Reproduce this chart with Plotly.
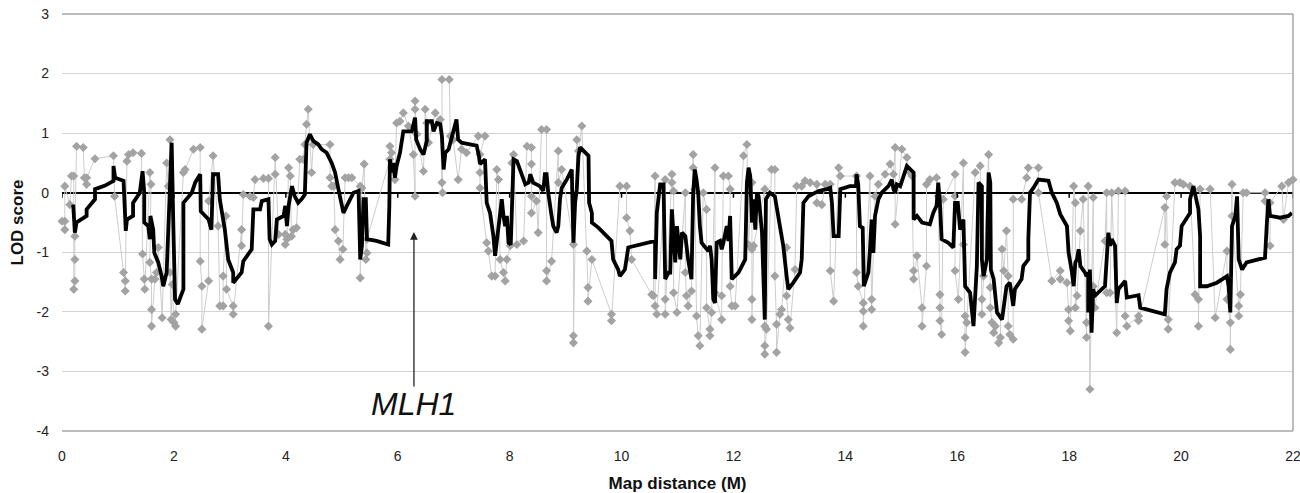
import plotly.graph_objects as go

# ---- data: grey single-marker LOD scores (map distance M, LOD) ----
gray_x = [0.0, 0.05, 0.05, 0.05, 0.14, 0.17, 0.21, 0.21, 0.23, 0.23, 0.23, 0.26, 0.38, 0.40, 0.44, 0.44,
          0.59, 0.92, 0.94, 1.10, 1.13, 1.13, 1.16, 1.19, 1.27, 1.42, 1.44, 1.47, 1.48, 1.57, 1.59, 1.57,
          1.60, 1.60, 1.60, 1.66, 1.69, 1.72, 1.79, 1.87, 1.90, 1.93, 1.93, 1.95, 1.97, 2.00, 2.03, 2.03,
          2.17, 2.20, 2.35, 2.47, 2.47, 2.50, 2.50, 2.62, 2.62, 2.70, 2.79, 2.82, 2.88, 2.88, 2.93, 2.94,
          3.06, 3.06, 3.21, 3.21, 3.24, 3.36, 3.42, 3.45, 3.60, 3.69, 3.69,
          3.81, 3.81, 3.87, 3.99, 3.99, 4.02, 4.05, 4.08, 4.10, 4.13, 4.19, 4.25, 4.31, 4.34, 4.37, 4.40,
          4.46, 4.49, 4.79, 4.79, 4.82, 4.86, 4.88, 4.94, 4.97, 5.02, 5.06, 5.12, 5.18, 5.33, 5.33, 5.36,
          5.40, 5.43, 5.45, 5.45, 5.86, 5.86, 5.89, 5.95, 5.98, 6.04, 6.10, 6.19, 6.28, 6.31, 6.31, 6.31,
          6.34, 6.46, 6.49, 6.52, 6.55, 6.67, 6.76, 6.79, 6.80, 6.79, 6.92, 6.94, 6.99, 7.08, 7.14, 7.23,
          7.44, 7.56, 7.47, 7.47, 7.47, 7.59, 7.62, 7.68, 7.74, 7.77, 7.80, 7.83, 7.89, 7.92, 7.95, 8.01,
          8.04, 8.07, 8.13, 8.25, 8.31, 8.39, 8.39, 8.39, 8.39, 8.48, 8.51, 8.57, 8.66, 8.66, 8.66, 8.75,
          8.87, 8.87, 8.93, 9.14, 9.14, 9.14, 9.20, 9.23, 9.29, 9.38, 9.40, 9.40, 9.47, 9.82, 9.82, 9.97,
          10.09, 10.09, 10.15, 10.18, 10.54, 10.57, 10.60, 10.60, 10.63, 10.78, 10.78, 10.78,
          10.90, 10.90, 10.93, 10.93, 10.99, 11.14, 11.14, 11.16, 11.19, 11.25, 11.28, 11.28, 11.31, 11.34,
          11.37, 11.40, 11.46, 11.52, 11.52, 11.58, 11.58, 11.61, 11.67, 11.67, 11.79, 11.79, 11.82, 11.91,
          11.94, 11.94, 11.97, 12.03, 12.18, 12.24, 12.27, 12.33, 12.33, 12.33, 12.33, 12.36, 12.56, 12.56,
          12.56, 12.56, 12.59, 12.68, 12.74, 12.74, 12.77, 12.77, 12.83, 12.86, 12.95, 12.95, 12.98, 13.01,
          13.10, 13.13, 13.22, 13.28, 13.37, 13.49, 13.49, 13.58, 13.64, 13.73, 13.73, 13.79, 13.88, 13.91,
          14.20, 14.20, 14.23, 14.32, 14.32, 14.32, 14.44, 14.47, 14.47,
          14.53, 14.59, 14.71, 14.80, 14.86, 14.89, 14.89, 15.01, 15.10, 15.13, 15.19, 15.22, 15.22, 15.28,
          15.37, 15.37, 15.45, 15.45, 15.51, 15.63, 15.66, 15.69, 15.69, 15.69, 15.72, 15.75, 15.96, 15.96,
          15.96, 16.02, 16.11, 16.11, 16.14, 16.14, 16.14, 16.17, 16.32, 16.41, 16.44, 16.44, 16.47, 16.56,
          16.59, 16.59, 16.62, 16.65, 16.68, 16.74, 16.77, 16.80, 16.83, 16.88, 16.91, 16.91, 16.94, 17.00,
          17.00, 17.15, 17.24, 17.27, 17.45, 17.45, 17.69, 17.84, 17.84, 17.96, 17.99, 17.99, 18.02, 18.08,
          18.11, 18.11, 18.14,
          18.20, 18.25, 18.31, 18.31, 18.34, 18.37, 18.43, 18.43, 18.46, 18.64, 18.67, 18.67, 18.73, 18.76,
          18.85, 18.88, 19.00, 19.00, 19.03, 19.24, 19.24, 19.71, 19.71, 19.74, 19.77, 19.77, 19.89, 19.98,
          20.04, 20.16, 20.25, 20.31, 20.31, 20.34, 20.52, 20.61, 20.82, 20.82, 20.88, 20.88, 20.91, 20.91,
          21.03, 21.03, 21.06, 21.11, 21.17, 21.50, 21.50, 21.59, 21.59, 21.80, 21.83, 21.92, 22.0]
gray_y = [-0.48, -0.48, -0.62, 0.11, -0.20, 0.28, 0.28, -1.62, -1.48, -1.12, -0.73, 0.78, 0.76, 0.25, 0.14, 0.25,
          0.57, 0.62, -0.06, -1.34, -1.48, -1.65, 0.53, 0.64, 0.67, 0.66, -1.03, -1.45, -1.62, 0.34, 0.14, -1.17,
          -1.45, -1.96, -2.24, -1.45, -1.34, -0.92, -2.10, 0.50, 0.11, 0.89, -1.34, -2.13, -1.54, -2.18, -2.24, -2.04,
          0.34, 0.39, 0.73, 0.76, -1.15, -1.57, -2.29, -1.48, -0.14, 0.62, -0.56, -1.90, -1.90, -1.40, -0.39, -1.62,
          -1.90, -2.04, -0.62, -0.89, -0.03, -0.06, -0.08, 0.22, 0.24, 0.24, -2.24,
          0.31, 0.59, -0.70, -0.70, -0.87, -0.78, 0.42, 0.28, -0.73, -0.62, -0.59, 0.56, 0.56, 0.81, 1.15, 1.40,
          0.34, 0.81, 0.81, 0.25, 0.11, 0.11, -0.62, -0.81, -1.12, -0.95, 0.25, 0.25, 0.25, 0.11, -1.43, 0.08,
          0.48, -1.12, -1.01, -0.78, 0.56, 0.78, 0.67, 0.22, 1.17, 1.20, 1.34, 1.12, 0.64, -0.06, 1.54, 1.40,
          0.98, 0.36, 1.40, 1.17, 0.84, 1.34, 1.23, 0.17, 0.0, 1.90, 1.90, 0.95, 0.89, 0.22, 0.73, 0.67,
          0.95, 0.95, 0.64, 0.34, 0.08, -0.84, -0.98, -1.40, -1.40, 0.39, 0.22, -1.12, -1.34, -1.48, -1.12, -0.89,
          0.50, 0.64, -0.87, -0.81, 0.78, 0.76, 0.48, -0.06, -0.34, -0.14, -0.67, 1.06, 1.06, -1.31, -1.48, -1.15,
          0.70, 0.17, 0.39, -0.87, -2.40, -2.52, 0.89, 0.70, 1.12, -0.98, -1.59, -1.82, -1.12, -2.04, -2.15, 0.11,
          0.11, -0.42, -0.64, -1.12, -1.71, -1.73, 0.28, -1.90, -2.04, 0.22, -1.79, -2.04,
          0.31, 0.17, 0.03, -1.68, -2.01, 0.0, -1.34, -1.73, -1.90, -1.65, 0.64, 0.42, 0.06, -2.07,
          -2.40, -2.57, 0.0, -0.28, -1.93, -2.29, -2.40, -2.01, 0.42, -1.68, -2.13, -1.73, 0.28, 0.28,
          0.06, -1.57, -1.90, -1.90, 0.62, 0.81, -0.87, 0.17, -0.95, -1.79, -2.13, -0.89, 0.06, -2.24,
          -2.57, -2.71, -2.29, 0.39, 0.39, -1.40, -2.21, -2.68, -2.04, -1.96, -0.92, -1.73, -2.13, -2.27,
          -1.29, 0.11, 0.11, 0.20, 0.17, 0.14, -0.17, -0.20, 0.14, 0.14, -1.31, -1.82, 0.42, 0.28,
          0.28, -1.34, -1.57, -1.85, -1.99, -2.24, 0.28, -1.79, -1.96,
          -0.06, 0.14, 0.31, 0.48, 0.31, 0.76, -0.53, 0.73, 0.59, 0.36, 0.28, -1.31, -1.45, -1.06,
          -1.93, -2.24, -1.23, 0.14, 0.22, 0.25, -0.06, -1.71, -1.93, -2.15, -2.38, -0.11, 0.31, -0.06,
          -1.31, -1.79, 0.50, -0.87, -2.07, -2.43, -2.68, -2.18, 0.34, 0.45, -1.79, -2.04, -1.40, 0.64,
          -1.59, -1.93, -2.18, -2.35, -2.24, -2.52, -2.43, -0.95, -1.31, -0.64, -1.40, -2.24, -2.38, -2.46,
          -0.11, -0.11, 0.25, 0.42, 0.42, 0.0, -1.48, -1.31, -1.45, -1.51, -1.96, -2.15, -2.32, 0.11,
          -0.17, -1.93, -1.73,
          -0.64, -0.11, -2.18, -2.43, 0.11, -3.30, -0.08, -1.57, -1.93, -0.81, 0.0, -1.68, -1.68, 0.0,
          -2.35, 0.03, 0.03, -2.07, -2.24, -2.07, -2.15, -0.25, -0.87, -0.06, -2.13, -2.29, 0.17, 0.17,
          0.14, 0.11, -1.71, -1.79, -2.24, 0.06, 0.06, -2.10, -0.98, -1.79, -2.18, -2.63, 0.14, -0.39,
          -1.90, -2.07, -1.71, 0.0, 0.0, 0.0, -0.14, -0.89, -0.17, 0.11, -0.45, 0.17, 0.22]

# ---- data: black smoothed LOD curve ----
black_x = [0.20, 0.23, 0.26, 0.35, 0.44, 0.44, 0.59, 0.59, 0.77, 0.92, 0.92, 0.95, 1.10, 1.14, 1.16, 1.27,
           1.27, 1.39, 1.44, 1.47, 1.47, 1.54, 1.57, 1.58, 1.63, 1.65, 1.72, 1.78, 1.81, 1.87, 1.90, 1.93,
           1.96, 1.99, 2.02, 2.07, 2.17, 2.17, 2.32, 2.38, 2.47, 2.48, 2.62, 2.67, 2.70, 2.79, 2.82, 2.91,
           2.97, 3.06, 3.06, 3.21, 3.24, 3.39, 3.42, 3.54, 3.57, 3.69,
           3.71, 3.75, 3.81, 3.84, 3.96, 3.99, 4.02, 4.05, 4.11, 4.16, 4.22, 4.28, 4.34, 4.37, 4.43, 4.49,
           4.58, 4.64, 4.73, 4.82, 4.88, 4.94, 5.00, 5.03, 5.09, 5.15, 5.21, 5.30, 5.33, 5.36, 5.39, 5.43,
           5.45, 5.62, 5.83, 5.85, 5.86, 5.89, 5.92, 5.95, 5.98, 6.04, 6.07, 6.10, 6.25, 6.31, 6.33, 6.40,
           6.46, 6.52, 6.52, 6.61, 6.64, 6.70, 6.76, 6.79, 6.82, 6.85, 6.91, 6.96, 7.05, 7.08, 7.14,
           7.20, 7.41, 7.45, 7.47, 7.56, 7.59, 7.65, 7.71, 7.74, 7.80, 7.86, 7.89, 7.92, 7.95, 7.98, 8.02,
           8.04, 8.07, 8.13, 8.22, 8.28, 8.34, 8.37, 8.42, 8.54, 8.60, 8.63, 8.66, 8.69, 8.75, 8.78, 8.84,
           8.87, 8.90, 8.93, 9.02, 9.11, 9.14, 9.17, 9.20, 9.23, 9.26, 9.35, 9.41, 9.42, 9.47, 9.47, 9.59,
           9.82, 9.85, 9.94, 9.97, 10.06, 10.09, 10.12, 10.60, 10.60, 10.63, 10.69, 10.75, 10.78, 10.84,
           10.87, 10.90, 10.93, 10.96, 10.99, 11.05, 11.08, 11.14, 11.19, 11.25, 11.28, 11.31, 11.34, 11.37,
           11.40, 11.43, 11.55, 11.58, 11.61, 11.64, 11.67, 11.70, 11.76, 11.79, 11.82, 11.88, 11.91, 11.94,
           11.97, 12.09, 12.21, 12.24, 12.27, 12.30, 12.33, 12.36, 12.39, 12.42, 12.45, 12.51, 12.56, 12.58,
           12.65, 12.74, 12.83, 12.89, 12.95, 12.98, 13.07, 13.19, 13.22, 13.25, 13.34, 13.52, 13.67, 13.73,
           13.76, 13.79, 13.88, 13.91, 14.08, 14.19, 14.20, 14.23, 14.26, 14.31, 14.33, 14.41, 14.44, 14.47,
           14.50, 14.53,
           14.59, 14.65, 14.77, 14.83, 14.86, 14.89, 14.92, 14.98, 15.04, 15.10, 15.22, 15.22, 15.28, 15.37,
           15.51, 15.57, 15.63, 15.66, 15.69, 15.72, 15.84, 15.93, 15.96, 16.01, 16.05, 16.11, 16.14, 16.23,
           16.29, 16.35, 16.38, 16.44, 16.44, 16.47, 16.53, 16.56, 16.59, 16.60, 16.65, 16.71, 16.80, 16.88,
           16.94, 17.00, 17.03, 17.15, 17.18, 17.27, 17.27, 17.30, 17.36, 17.45, 17.63, 17.69, 17.78, 17.84,
           17.96, 17.99, 18.05, 18.08, 18.11, 18.14, 18.17, 18.20, 18.28, 18.31,
           18.34, 18.34, 18.37, 18.40, 18.43, 18.46, 18.64, 18.67, 18.70, 18.73, 18.76, 18.82, 18.85, 18.88,
           19.00, 19.03, 19.24, 19.27, 19.71, 19.74, 19.80, 19.89, 19.92, 19.98, 20.01, 20.16, 20.16, 20.22,
           20.31, 20.34, 20.34, 20.46, 20.64, 20.82, 20.85, 20.88, 20.91, 20.97, 21.00, 21.03, 21.09, 21.17,
           21.50, 21.53, 21.56, 21.59, 21.77, 21.92, 21.98]
black_y = [-0.20, -0.67, -0.50, -0.45, -0.39, -0.28, -0.11, 0.06, 0.12, 0.20, 0.45, 0.25, 0.20, -0.64, -0.45, -0.39,
           -0.17, 0.0, 0.36, 0.0, -0.50, -0.56, -0.78, -0.39, -0.62, -1.01, -1.17, -1.40, -1.57, -1.34, -0.62, -0.17,
           0.84, -0.56, -1.79, -1.87, -1.62, -0.17, 0.0, 0.17, 0.31, -0.31, -0.45, -0.62, 0.31, 0.31, -0.11, -0.62,
           -1.12, -1.34, -1.51, -1.34, -1.15, -0.95, -0.28, -0.28, -0.14, -0.11,
           -0.78, -0.87, -0.81, -0.45, -0.39, -0.22, -0.56, -0.22, 0.11, -0.06, -0.17, -0.11, -0.03, 0.84, 0.98, 0.87,
           0.81, 0.73, 0.67, 0.50, 0.34, 0.06, -0.22, -0.34, -0.22, -0.11, 0.0, 0.03, -1.12, -0.89, -0.11, -0.11,
           -0.78, -0.81, -0.87, -0.22, 0.56, 0.34, 0.50, 0.25, 0.45, 0.67, 0.84, 1.03, 1.03, 1.26, 0.89, 0.73,
           0.64, 0.87, 1.20, 1.20, 1.03, 1.17, 1.15, 0.95, 0.39, 0.67, 0.73, 0.89, 1.23, 0.89, 0.84,
           0.83, 0.79, 0.62, 0.48, 0.56, -0.17, -0.34, -0.73, -1.06, -0.56, -0.11, -0.39, -0.56, -0.39, -0.84, -0.87,
           -0.39, 0.56, 0.53, 0.28, 0.14, 0.17, 0.31, 0.17, 0.11, 0.03, 0.31, 0.31, 0.0, -0.39, -0.56, -0.67,
           -0.56, -0.11, 0.08, 0.22, 0.39, -0.84, -0.17, 0.06, 0.62, 0.76, 0.67, 0.62, -0.17, -0.34, -0.50, -0.59,
           -0.81, -1.12, -1.29, -1.40, -1.29, -1.12, -0.92, -0.81, -1.45, -0.34, 0.14, 0.14, -1.45, -1.34,
           -1.34, -0.28, -0.89, -1.17, -0.56, -1.12, -0.67, -0.73, -1.12, -1.45, 0.0, 0.39, 0.22, 0.0,
           -0.56, -0.84, -0.98, -0.89, -1.12, -1.79, -1.85, -0.84, -0.81, -0.95, -0.84, -0.56, -0.81, -0.39,
           -1.45, -1.34, -1.12, 0.17, 0.42, 0.28, -0.50, -0.11, -0.62, 0.0, -0.06, -0.67, -2.13, -0.11,
           0.0, -0.06, -0.56, -0.89, -1.40, -1.62, -1.51, -1.34, -1.12, -0.17, -0.06, 0.03, 0.06, 0.08,
           -0.17, -0.73, -0.73, 0.06, 0.11, 0.11, 0.31, 0.14, -0.56, -0.59, -1.57, -1.34, -0.95, -0.45,
           -1.01, -0.39,
           -0.11, 0.0, 0.11, 0.22, 0.06, 0.0, 0.14, 0.11, 0.28, 0.45, 0.34, -0.45, -0.39, -0.50,
           -0.53, -0.34, -0.22, 0.17, -0.17, -0.78, -0.84, -0.92, -0.17, -0.17, -0.62, -0.45, -1.57, -1.68,
           -2.24, -1.23, 0.17, 0.11, -1.12, -1.40, -1.12, 0.34, 0.17, -1.29, -1.45, -2.01, -2.13, -1.57,
           -1.51, -1.90, -1.62, -1.45, -1.23, -1.12, -0.78, 0.0, 0.08, 0.22, 0.20, 0.0, -0.17, -0.36,
           -0.56, -1.01, -1.34, -1.57, -1.17, -1.12, -0.95, -1.23, -1.34, -1.40,
           -1.34, -2.01, -1.29, -2.35, -1.62, -1.73, -1.57, -1.12, -0.67, -0.89, -0.78, -0.89, -1.85, -1.62,
           -1.48, -1.76, -1.72, -1.93, -2.04, -1.62, -1.34, -1.17, -0.95, -0.89, -0.56, -0.34, -0.11, 0.11,
           -0.28, -0.73, -1.57, -1.57, -1.51, -1.40, -1.57, -2.01, -0.56, -0.39, -0.06, -1.12, -1.29, -1.17,
           -1.09, -0.56, -0.11, -0.39, -0.42, -0.39, -0.34]

x_ticks = [0, 2, 4, 6, 8, 10, 12, 14, 16, 18, 20, 22]
y_ticks = [3, 2, 1, 0, -1, -2, -3, -4]
gene_label = "MLH1"
gene_pos = 6.29

FONT = "Liberation Sans, Arial, sans-serif"

fig = go.Figure()
fig.add_trace(go.Scatter(
    x=gray_x, y=gray_y, mode="lines+markers",
    line=dict(color="#cdcdcd", width=1),
    marker=dict(symbol="diamond", size=7, color="#a3a3a3"),
    showlegend=False, hoverinfo="skip", cliponaxis=False))
fig.add_trace(go.Scatter(
    x=black_x, y=black_y, mode="lines",
    line=dict(color="#000000", width=3.8),
    showlegend=False, hoverinfo="skip"))

# small ticks hanging from the zero axis line
for t in x_ticks:
    fig.add_shape(type="line", xref="x", yref="y", x0=t, x1=t,
                  ysizemode="pixel", yanchor=0, y0=0, y1=-5,
                  line=dict(color="#000000", width=1.5))

# plot-area border (top, right, bottom)
for (x0, y0, x1, y1) in [(0, 1, 1, 1), (1, 0, 1, 1), (0, 0, 1, 0)]:
    fig.add_shape(type="line", xref="paper", yref="paper", x0=x0, y0=y0, x1=x1, y1=y1,
                  line=dict(color="#a6a6a6", width=1.5))

fig.add_annotation(x=gene_pos, y=-0.66, ax=gene_pos, ay=-3.28, xref="x", yref="y",
                   axref="x", ayref="y", text="", showarrow=True, arrowhead=2,
                   arrowsize=1.2, arrowwidth=1.3, arrowcolor="#222222")
fig.add_annotation(x=gene_pos, y=-3.55, xref="x", yref="y", text="<i>" + gene_label + "</i>",
                   showarrow=False, font=dict(family=FONT, size=32, color="#111111"))

fig.update_layout(
    width=1300, height=493,
    margin=dict(l=62, r=7, t=14, b=62),
    paper_bgcolor="white", plot_bgcolor="white",
    font=dict(family=FONT, size=14, color="#222222"),
    xaxis=dict(range=[0, 22], tickvals=x_ticks, ticktext=[str(t) for t in x_ticks],
               showgrid=False, zeroline=False, showline=False, ticks="",
               ticklabelstandoff=15, ticklabeloverflow="allow", automargin=False,
               title=dict(text="<b>Map distance (M)</b>", font=dict(size=17, color="#111111"), standoff=16)),
    yaxis=dict(range=[-4, 3], tickvals=y_ticks, ticktext=[str(t) for t in y_ticks],
               showgrid=True, gridcolor="#d4d4d4", gridwidth=1.2,
               zeroline=True, zerolinecolor="#000000", zerolinewidth=2.2,
               showline=False, ticks="", ticklabelstandoff=12, automargin=False,
               title=dict(text="<b>LOD score</b>", font=dict(size=17, color="#111111"), standoff=8)),
)

fig.write_html("out.html", config={"displayModeBar": False},
               post_script="document.body.style.margin='0px';")
